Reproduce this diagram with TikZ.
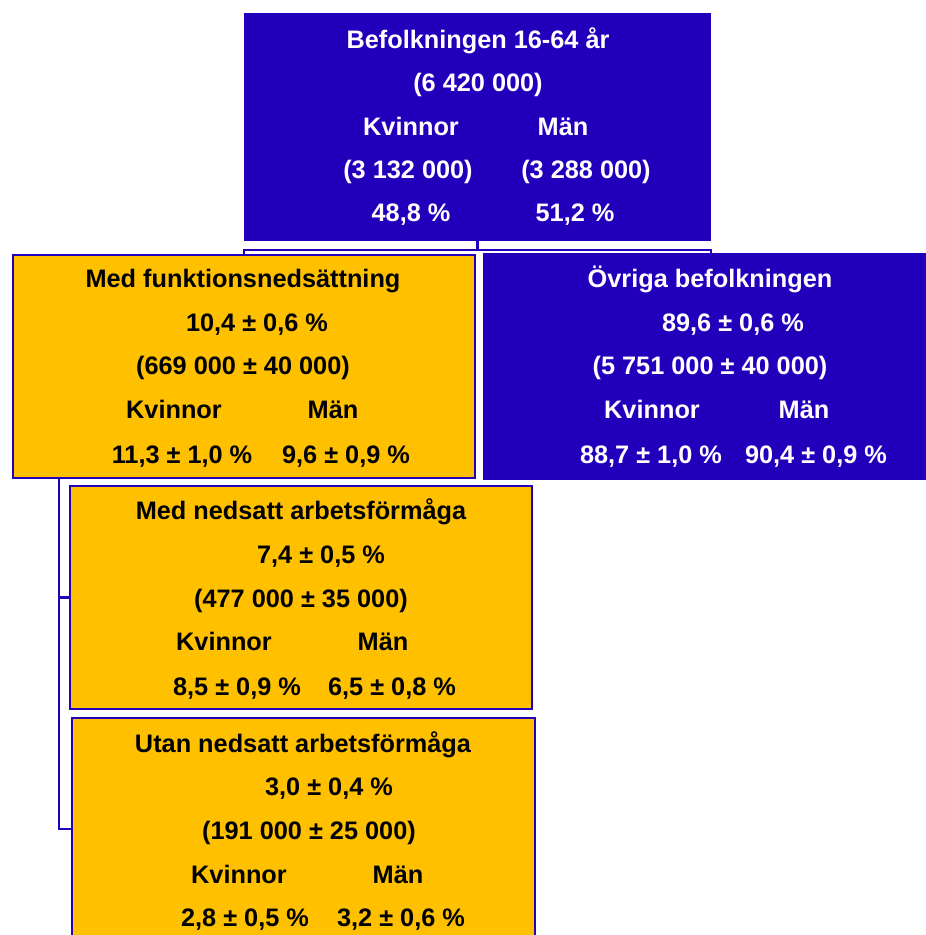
\documentclass[tikz,border=0pt]{standalone}
\usepackage{fontspec}
\setmainfont{Liberation Sans}
\usepackage{tikz}

\definecolor{popblue}{HTML}{2200BB}
\definecolor{popgold}{HTML}{FFC000}

\tikzset{
	box/.style={draw=popblue, line width=1.2pt, inner sep=0pt, minimum height=4.46cm, minimum width=9.24cm},
	bluebox/.style={box, fill=popblue},
	goldbox/.style={box, fill=popgold},
	txt/.style={font=\bfseries\fontsize{14.4}{17}\selectfont, inner sep=0pt, anchor=base},
	wtxt/.style={txt, text=white},
	link/.style={draw=popblue, line width=1.4pt}
}

\begin{document}
\begin{tikzpicture}[x=0.02cm, y=-0.02cm]
	\useasboundingbox (0, 0) rectangle (925, 935);
	% boxes
	\node[bluebox, minimum width=9.3cm, minimum height=4.52cm] (pop) at (477.5, 127) {};
	\node[goldbox] (funk) at (244, 366.5) {};
	\node[bluebox, minimum width=8.92cm, minimum height=4.5cm] (rest) at (707, 366.5) {};
	\node[goldbox] (arb) at (301, 597.5) {};
	\node[goldbox, minimum width=9.26cm, minimum height=4.44cm] (utan) at (303.5, 829) {};

	% connectors
	\coordinate (split) at (477.5, 250);
	\coordinate (spine) at (59, 478);
	\draw[link] (pop.south) -- (split);
	\draw[link] (funk.north -| pop.west) |- (split) -| (rest.north -| pop.east);
	\draw[link] (spine) |- (arb.west);
	\draw[link] (spine) |- (utan.west);

	% befolkningen
	\node[wtxt] (pop-t) at (478, 49) {Befolkningen 16-64 år};
	\node[wtxt] (pop-n) at (478, 92) {(6 420 000)};
	\node[wtxt] (pop-k) at (411, 136) {Kvinnor};
	\node[wtxt] (pop-m) at (563, 136) {Män};
	\node[wtxt] (pop-kn) at (408, 179) {(3 132 000)};
	\node[wtxt] (pop-mn) at (586, 179) {(3 288 000)};
	\node[wtxt] (pop-kp) at (411, 222) {48,8 \%};
	\node[wtxt] (pop-mp) at (575, 222) {51,2 \%};

	% med funktionsnedsattning
	\node[txt] (funk-t) at (243, 288) {Med funktionsnedsättning};
	\node[txt] (funk-p) at (257, 332) {10,4 ± 0,6 \%};
	\node[txt] (funk-n) at (243, 375) {(669 000 ± 40 000)};
	\node[txt] (funk-k) at (174, 418) {Kvinnor};
	\node[txt] (funk-m) at (333, 418) {Män};
	\node[txt] (funk-kp) at (182, 463) {11,3 ± 1,0 \%};
	\node[txt] (funk-mp) at (346, 463) {9,6 ± 0,9 \%};

	% ovriga
	\node[wtxt] (rest-t) at (710, 288) {Övriga befolkningen};
	\node[wtxt] (rest-p) at (733, 332) {89,6 ± 0,6 \%};
	\node[wtxt] (rest-n) at (710, 375) {(5 751 000 ± 40 000)};
	\node[wtxt] (rest-k) at (652, 418) {Kvinnor};
	\node[wtxt] (rest-m) at (804, 418) {Män};
	\node[wtxt] (rest-kp) at (651, 463) {88,7 ± 1,0 \%};
	\node[wtxt] (rest-mp) at (816, 463) {90,4 ± 0,9 \%};

	% med nedsatt arbetsformaga
	\node[txt] (arb-t) at (301, 519) {Med nedsatt arbetsförmåga};
	\node[txt] (arb-p) at (321, 563) {7,4 ± 0,5 \%};
	\node[txt] (arb-n) at (301, 607) {(477 000 ± 35 000)};
	\node[txt] (arb-k) at (224, 650) {Kvinnor};
	\node[txt] (arb-m) at (383, 650) {Män};
	\node[txt] (arb-kp) at (237, 695) {8,5 ± 0,9 \%};
	\node[txt] (arb-mp) at (392, 695) {6,5 ± 0,8 \%};

	% utan nedsatt arbetsformaga
	\node[txt] (utan-t) at (303, 752) {Utan nedsatt arbetsförmåga};
	\node[txt] (utan-p) at (329, 795) {3,0 ± 0,4 \%};
	\node[txt] (utan-n) at (309, 839) {(191 000 ± 25 000)};
	\node[txt] (utan-k) at (239, 883) {Kvinnor};
	\node[txt] (utan-m) at (398, 883) {Män};
	\node[txt] (utan-kp) at (245, 926) {2,8 ± 0,5 \%};
	\node[txt] (utan-mp) at (401, 926) {3,2 ± 0,6 \%};
\end{tikzpicture}
\end{document}
